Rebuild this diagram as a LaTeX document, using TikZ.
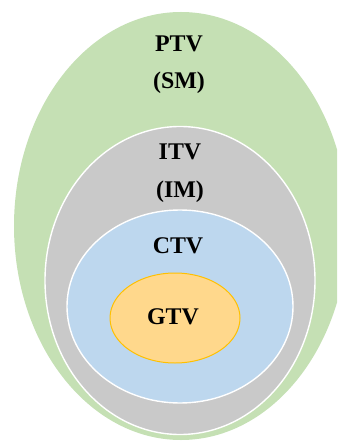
\documentclass[tikz,border=0pt]{standalone}
\usepackage{fontspec}
\setmainfont{Liberation Serif}
\usetikzlibrary{shapes.geometric}
\definecolor{ptvgreen}{HTML}{C5E0B4}
\definecolor{itvgray}{HTML}{C9C9C9}
\definecolor{ctvblue}{HTML}{BDD7EE}
\definecolor{gtvfill}{HTML}{FFD88C}
\definecolor{gtvline}{HTML}{FFC000}
\tikzset{
  zone/.style={ellipse, inner sep=0pt, draw=white, line width=1.4pt},
  zonelabel/.style={anchor=base, inner sep=0pt,
    font=\fontsize{24}{28}\selectfont\bfseries, text=black}
}
\begin{document}
\begin{tikzpicture}[x=1bp, y=-1bp]
  \useasboundingbox (0,0) rectangle (337,441);
  \clip (0,0) rectangle (337,441);
  % nested target volumes
  \node[zone, draw=none, fill=ptvgreen, minimum width=334bp, minimum height=428bp] (ptv) at (181,226) {};
  \node[zone, fill=itvgray, minimum width=270bp, minimum height=308bp] (itv) at (180,280.5) {};
  \node[zone, fill=ctvblue, minimum width=226bp, minimum height=193bp] (ctv) at (180,306.5) {};
  \node[zone, draw=gtvline, line width=1pt, fill=gtvfill, minimum width=130bp, minimum height=90bp] (gtv) at (175,318) {};
  % labels
  \node[zonelabel] (ptvname) at (179,52) {PTV};
  \node[zonelabel] (ptvmargin) at (179,89) {(SM)};
  \node[zonelabel] (itvname) at (180,160) {ITV};
  \node[zonelabel] (itvmargin) at (180,198) {(IM)};
  \node[zonelabel] (ctvname) at (178,253) {CTV};
  \node[zonelabel] (gtvname) at (173,324) {GTV};
\end{tikzpicture}
\end{document}
